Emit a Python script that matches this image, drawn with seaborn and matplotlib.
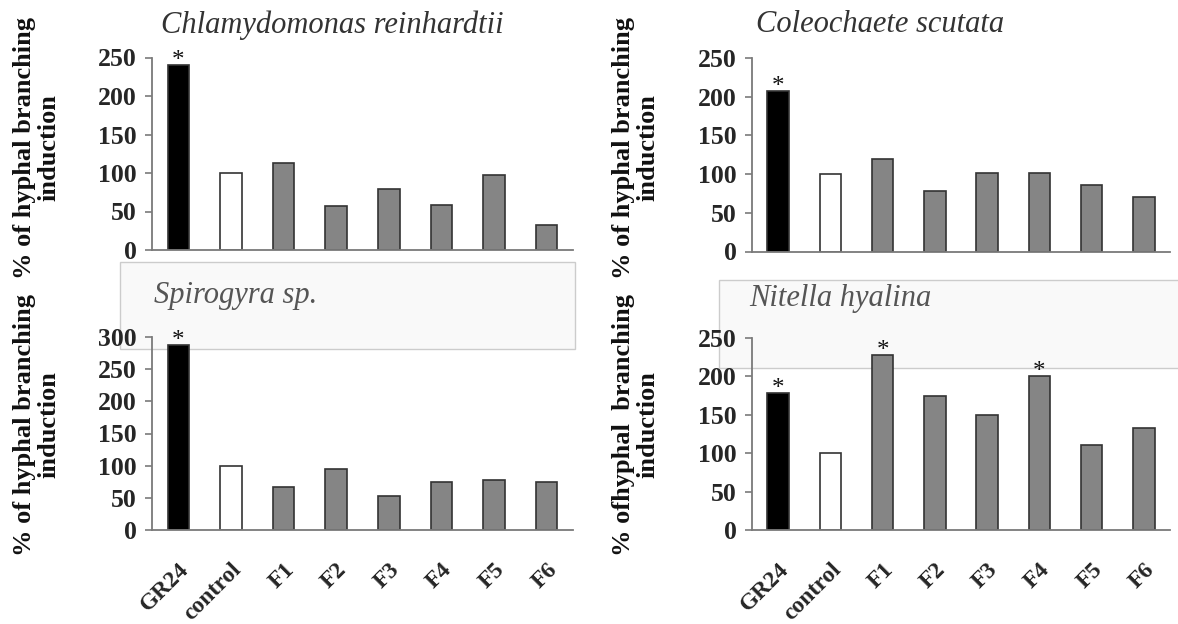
import numpy as np
import pandas as pd
import matplotlib
matplotlib.use("Agg")
import matplotlib.pyplot as plt
from matplotlib.patches import Rectangle
from matplotlib.transforms import ScaledTranslation
import seaborn as sns

# ---------------- data ----------------
categories = ["GR24", "control", "F1", "F2", "F3", "F4", "F5", "F6"]
chlamydomonas = [240, 100, 113, 57, 79, 59, 98, 32]
coleochaete = [207, 100, 119, 78, 102, 102, 86, 71]
spirogyra = [288, 100, 67, 95, 53, 74, 78, 74]
nitella = [178, 100, 228, 175, 150, 201, 111, 133]

sig_chlamydomonas = ["GR24"]
sig_coleochaete = ["GR24"]
sig_spirogyra = ["GR24"]
sig_nitella = ["GR24", "F1", "F4"]

title_chlamydomonas = "Chlamydomonas reinhardtii"
title_coleochaete = "Coleochaete scutata"
title_spirogyra = "Spirogyra sp."
title_nitella = "Nitella hyalina"

ylabel_std = "% of hyphal branching\ninduction"
ylabel_nitella = "% ofhyphal  branching\ninduction"

yticks_250 = [0, 50, 100, 150, 200, 250]
yticks_300 = [0, 50, 100, 150, 200, 250, 300]

# ---------------- style ----------------
sns.set_style("white")
plt.rcParams['font.family'] = ['Liberation Serif', 'DejaVu Serif']

W, H = 1178, 624
fig = plt.figure(figsize=(W / 100, H / 100), dpi=100)

bar_palette = {"GR24": "#000000", "control": "#ffffff"}
for c in categories[2:]:
    bar_palette[c] = "#858585"
axis_color = "#7a7a7a"


def fx(px):
    return px / W


def fy(py):
    return 1 - py / H


# light boxes behind the lower panels (as in the source figure)
fig.patches.append(Rectangle((fx(120), fy(349)), fx(575 - 120), (349 - 262) / H,
                             transform=fig.transFigure, facecolor="#f9f9f9",
                             edgecolor="#cccccc", linewidth=1.0, zorder=-5))
fig.patches.append(Rectangle((fx(719), fy(368)), fx(1190 - 719), (368 - 280) / H,
                             transform=fig.transFigure, facecolor="#f9f9f9",
                             edgecolor="#cccccc", linewidth=1.0, zorder=-5))

panels = [
    # (rect, values, ymax, yticks, sig, show_x)
    ([fx(152), fy(250), fx(573 - 152), (250 - 57.5) / H], chlamydomonas, 250, yticks_250, sig_chlamydomonas, False),
    ([fx(752), fy(251.5), fx(1170 - 752), (251.5 - 58) / H], coleochaete, 250, yticks_250, sig_coleochaete, False),
    ([fx(152), fy(530), fx(573 - 152), (530 - 337) / H], spirogyra, 300, yticks_300, sig_spirogyra, True),
    ([fx(752), fy(530), fx(1170 - 752), (530 - 338) / H], nitella, 250, yticks_250, sig_nitella, True),
]

for rect, vals, ymax, yticks, sig, show_x in panels:
    ax = fig.add_axes(rect)
    ax.set_facecolor("none")
    df = pd.DataFrame({"cat": categories, "val": vals})
    sns.barplot(data=df, x="cat", y="val", hue="cat", palette=bar_palette,
                legend=False, width=0.41, saturation=1, edgecolor="#333333",
                linewidth=1.2, ax=ax)
    ax.set_xlim(-0.5, 7.5)
    ax.set_ylim(0, ymax)
    ax.set_yticks(yticks)
    ax.set_yticklabels([str(t) for t in yticks], fontsize=18.5, fontweight="bold")
    ax.set_xticks(range(len(categories)))
    if show_x:
        ax.set_xticklabels(categories, fontsize=17, fontweight="bold",
                           rotation=45, ha="right", va="top", rotation_mode="anchor")
        for lab in ax.get_xticklabels():
            lab.set_transform(lab.get_transform() + ScaledTranslation(4 / 100, 0, fig.dpi_scale_trans))
    else:
        ax.set_xticklabels([""] * len(categories))
    ax.set_xticks(np.arange(-0.5, len(categories), 1), minor=True)
    ax.tick_params(axis="x", which="major", length=0, pad=21)
    ax.tick_params(axis="x", which="minor", length=5, width=1.2, color=axis_color, direction="out")
    ax.tick_params(axis="y", which="major", length=5, width=1.2, color=axis_color,
                   direction="out", pad=6, left=True)
    for s in ["top", "right"]:
        ax.spines[s].set_visible(False)
    for s in ["left", "bottom"]:
        ax.spines[s].set_color(axis_color)
        ax.spines[s].set_linewidth(1.3)
    ax.set_xlabel("")
    ax.set_ylabel("")
    for cat in sig:
        i = categories.index(cat)
        ax.annotate("*", xy=(i, vals[i]), xytext=(0, -1.5), textcoords="offset points",
                    ha="center", va="baseline", fontsize=18, color="#111111",
                    annotation_clip=False)

# titles
fig.text(fx(332), fy(25), title_chlamydomonas, fontsize=22, style="italic",
         color="#333333", ha="center", va="center")
fig.text(fx(880), fy(25), title_coleochaete, fontsize=22, style="italic",
         color="#333333", ha="center", va="center")
fig.text(fx(154), fy(296), title_spirogyra, fontsize=22, style="italic",
         color="#555555", ha="left", va="center")
fig.text(fx(749), fy(298), title_nitella, fontsize=22, style="italic",
         color="#555555", ha="left", va="center")

# y labels
for (x, y, lab) in [(37, 148, ylabel_std), (636, 148, ylabel_std),
                    (37, 425, ylabel_std), (636, 425, ylabel_nitella)]:
    fig.text(fx(x), fy(y), lab, rotation=90, ha="center", va="center",
             multialignment="center", fontsize=19, fontweight="bold",
             linespacing=1.1, color="#111111")

fig.savefig("out.png", dpi=100)
